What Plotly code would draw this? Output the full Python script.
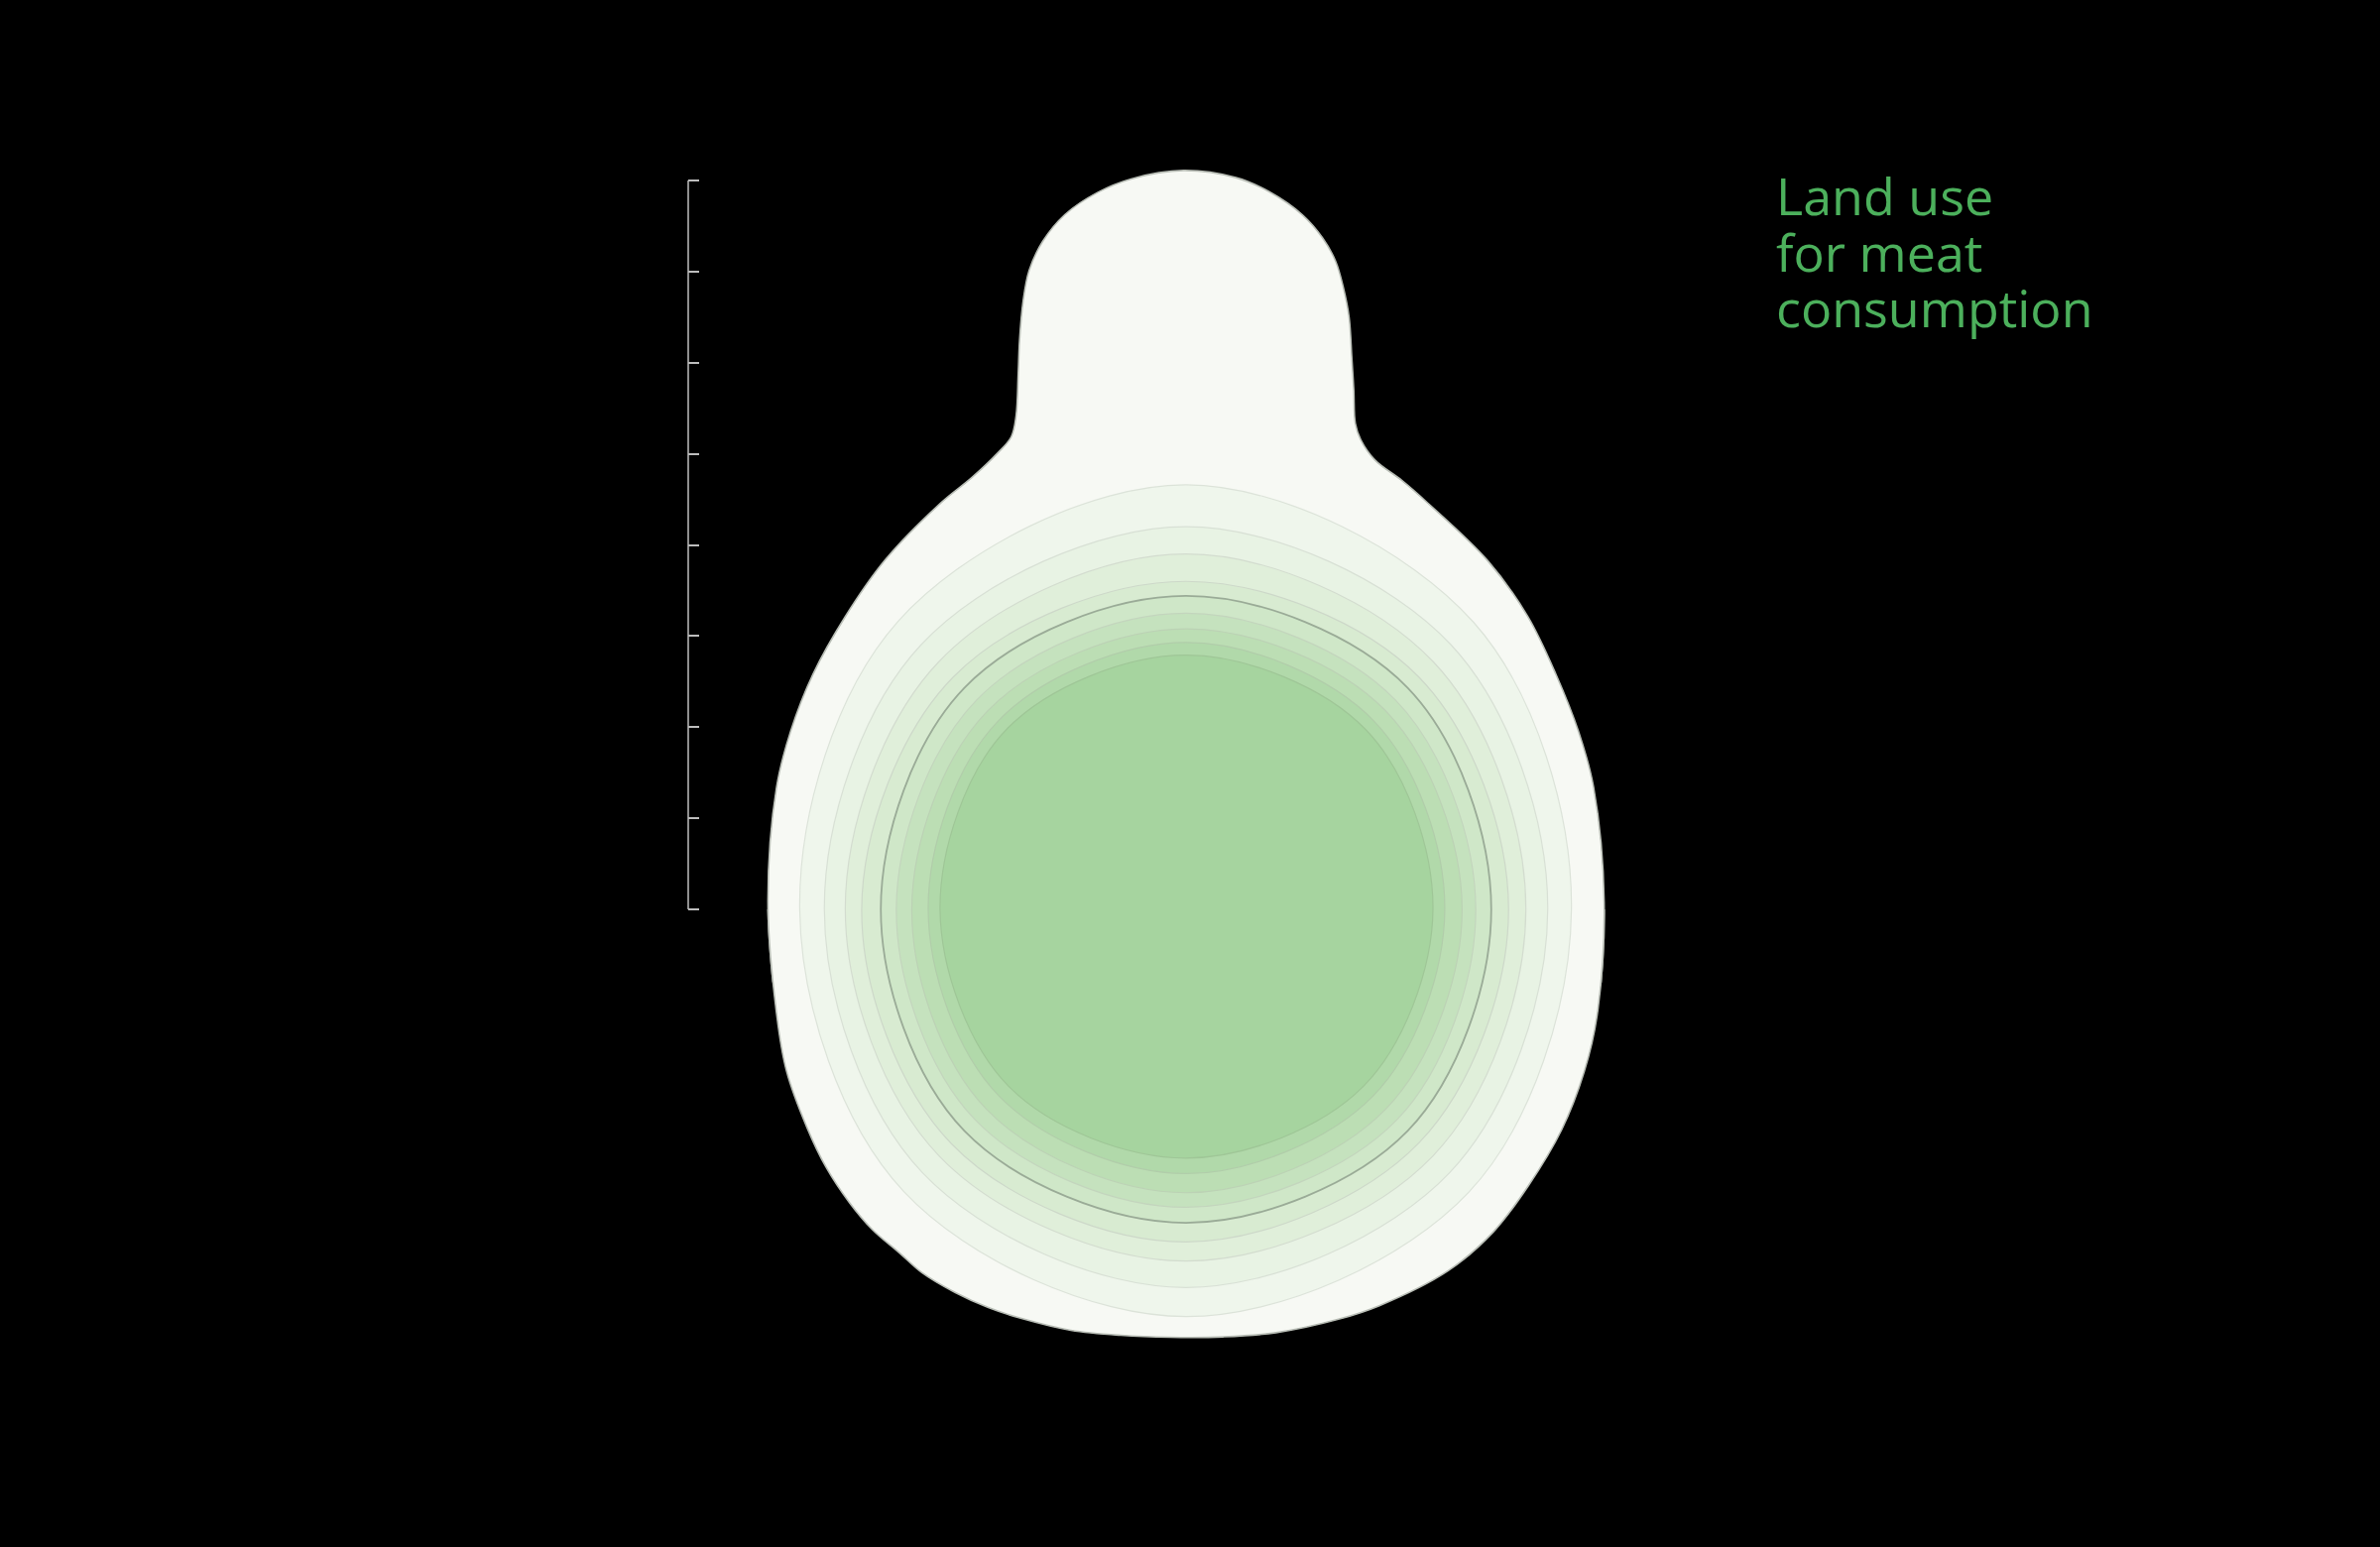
import plotly.graph_objects as go

# ---------------- data ----------------
# outer silhouette: direction (deg, counter-clockwise from east) and radius (ruler units)
outer_theta = [1, 16.7, 24.4, 32.4, 40.6, 49.1, 59.3, 63.3, 67.2, 69.6, 70.8, 72.1, 73.3,
               74.6, 75.8, 77.0, 78.5, 80.5, 83.4, 86.1, 90.2, 94.3, 97.0, 99.9, 102.1,
               103.8, 105.0, 106.3, 107.4, 109.0, 110.3, 112.4, 116.4, 121.1, 130.8,
               139.4, 147.8, 155.7, 163.4, 178.9, 194.5, 202.0, 209.9, 215.6, 221.1, 225.6,
               230.1, 234.0, 238.9, 243.6, 248.1, 254.7, 261.3, 267.9, 275, 282, 290.4,
               296, 305.9, 313.6, 321, 329.6, 337.8, 345.5]
outer_r = [459, 467, 473, 481, 494, 506, 519, 527, 535, 550, 565, 599, 633,
           674, 704, 730, 752, 773, 793, 805, 811, 804, 793, 774, 750,
           722, 691, 651, 616, 573, 553, 542, 529, 521, 506,
           493, 484, 476, 469, 459, 464, 473, 480, 486, 490, 492,
           491, 493, 491, 488, 484, 479, 473, 470, 471, 475, 480,
           484, 490, 489, 483, 478, 472, 466]

# inner contour bands (outermost first), sampled every 45 degrees
band_theta = [0, 45, 90, 135, 180, 225, 270, 315]
band_r = {
    "band 1": [423, 446, 466, 447, 424, 438, 447, 439],
    "band 2": [397, 411, 420, 411, 397, 409, 415, 409],
    "band 3": [373, 384, 390, 384, 374, 383, 386, 383],
    "band 4": [354, 361, 360, 361, 356, 364, 365, 362],
    "band 5": [335, 344, 344, 344, 335, 344, 344, 344],
    "band 6": [318, 325, 325, 325, 318, 327, 327, 327],
    "band 7": [303, 309, 308, 308, 301, 310, 311, 310],
    "band 8": [284, 292, 293, 292, 283, 290, 290, 290],
    "band 9": [271, 279, 279, 279, 270, 275, 273, 275],
}
band_fill = ["#eff6ec", "#e8f3e4", "#e0efda", "#d8ebd1", "#cfe7c8",
             "#c5e2be", "#bcdeb4", "#b1d9aa", "#a6d49f"]
band_line = ["#dce3d9", "#d8e0d5", "#d3dccf", "#cdd8c9", "#9aab97",
             "#c3d5bd", "#bcd2b5", "#b1cdaa", "#9fc697"]
band_width = [1.2, 1.2, 1.2, 1.2, 1.8, 1.2, 1.2, 1.2, 1.2]

outer_fill = "#f7f9f4"
outer_line = "#b9beb6"

# ruler (radial scale) ticks
ruler_ticks = [0, 100, 200, 300, 400, 500, 600, 700, 800]

title_lines = ["Land use", "for meat", "consumption"]

# ---------------- figure ----------------
W, H = 2400, 1560
fig = go.Figure()


def closed(seq):
    return list(seq) + [seq[0]]


def add_shapes(subplot):
    fig.add_trace(go.Scatterpolar(
        r=closed(outer_r), theta=closed(outer_theta), mode="lines",
        fill="toself", fillcolor=outer_fill,
        line=dict(color=outer_line, width=1.6, shape="spline", smoothing=1),
        hoverinfo="skip", subplot=subplot))
    for (name, rr), fc, lc, lw in zip(band_r.items(), band_fill, band_line, band_width):
        fig.add_trace(go.Scatterpolar(
            r=closed(rr), theta=closed(band_theta), mode="lines", name=name,
            fill="toself", fillcolor=fc,
            line=dict(color=lc, width=lw, shape="spline", smoothing=1),
            hoverinfo="skip", subplot=subplot))


# upper half and lower half share the same centre and scale (two sectors, so the
# tall upper lobe fits in the canvas)
add_shapes("polar")
add_shapes("polar2")

# invisible trace to carry the ruler axis
fig.add_trace(go.Scatter(x=[0, 0], y=[ruler_ticks[0], ruler_ticks[-1]], mode="lines",
                         line=dict(width=0, color="rgba(0,0,0,0)"), hoverinfo="skip",
                         xaxis="x", yaxis="y", showlegend=False))

cx, cy = 1196, 917          # centre in px
px_per_unit = 0.91875
R1, R2 = 790, 600           # sector radii in px
s1 = 0.17365                # sin(10 deg): upper sector reaches 10 deg below horizontal


def pol(domx, domy, rad, sector):
    return dict(
        domain=dict(x=domx, y=domy), sector=sector,
        bgcolor="rgba(0,0,0,0)",
        radialaxis=dict(visible=False, range=[0, rad / px_per_unit]),
        angularaxis=dict(visible=False, direction="counterclockwise", rotation=0),
    )


fig.update_layout(
    polar=pol([(cx - R1) / W, (cx + R1) / W],
              [(H - cy - R1 * s1) / H, (H - cy + R1) / H], R1, [-10, 190]),
    polar2=pol([(cx - R2) / W, (cx + R2) / W],
               [(H - cy - R2) / H, (H - cy) / H], R2, [180, 360]),
    xaxis=dict(visible=False, domain=[0.3, 0.35], range=[-1, 1], fixedrange=True),
    yaxis=dict(
        domain=[(H - cy) / H, (H - cy + 800 * px_per_unit) / H],
        range=[0, 800], anchor="free", position=693.5 / W, side="right",
        tickvals=ruler_ticks, ticks="outside", ticklen=11, tickwidth=1.5,
        tickcolor="#bdbdbd", showline=True, linecolor="#8f8f8f", linewidth=1.6,
        showgrid=False, zeroline=False, showticklabels=False, fixedrange=True),
    width=W, height=H, margin=dict(l=0, r=0, t=0, b=0),
    paper_bgcolor="#000000", plot_bgcolor="#000000", showlegend=False,
)

baselines = [215, 271.5, 328]
fs = 52
for txt, base in zip(title_lines, baselines):
    fig.add_annotation(text=txt, xref="paper", yref="paper",
                       x=1789 / W, y=(H - (base - 0.35 * fs)) / H,
                       xanchor="left", yanchor="middle", showarrow=False,
                       font=dict(family="Open Sans", size=fs, color="#4cb05c"))

fig.write_html("out.html")
